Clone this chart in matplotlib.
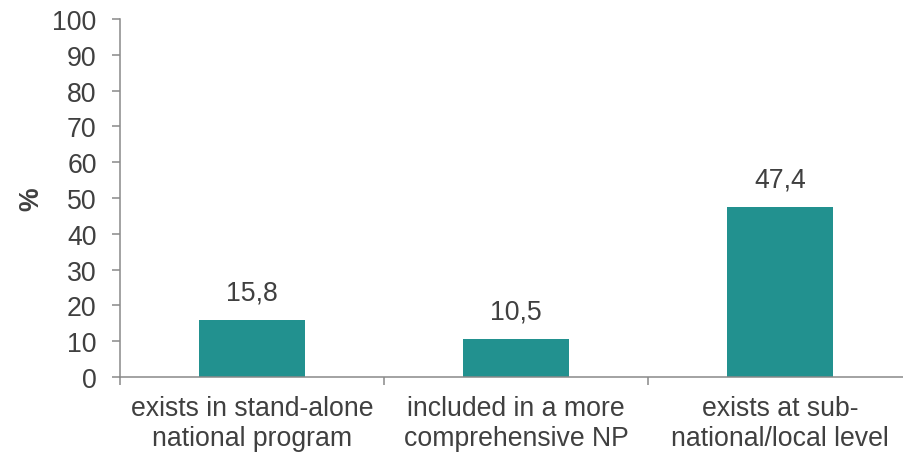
import matplotlib
matplotlib.use("Agg")
import matplotlib.pyplot as plt
import numpy as np

categories = ["exists in stand-alone\nnational program",
              "included in a more\ncomprehensive NP",
              "exists at sub-\nnational/local level"]
values = [15.8, 10.5, 47.4]
value_labels = ["15,8", "10,5", "47,4"]
yticks = [0, 10, 20, 30, 40, 50, 60, 70, 80, 90, 100]

plt.rcParams['font.family'] = ['Liberation Sans', 'DejaVu Sans']
text_color = "#404040"
spine_color = "#898989"
bar_color = "#22918F"
fs = 19.2

W, H = 904, 456
fig = plt.figure(figsize=(W / 100, H / 100), dpi=100)
ax = fig.add_axes([120 / W, (H - 378) / H, (912 - 120) / W, (378 - 20) / H])

x = np.arange(len(categories))
ax.bar(x, values, width=0.4, color=bar_color, zorder=2)
for xi, v, lab in zip(x, values, value_labels):
    ax.annotate(lab, (xi, v), xytext=(0, 11), textcoords="offset points",
                ha="center", va="bottom", fontsize=fs, color=text_color)

ax.set_xlim(-0.5, len(categories) - 0.5)
ax.set_ylim(0, 100)
ax.set_yticks(yticks)
ax.set_yticklabels([str(t) for t in yticks])

ax.set_xticks(np.arange(len(categories) + 1) - 0.5)
ax.set_xticklabels([])
ax.set_xticks(x, minor=True)
ax.set_xticklabels(categories, minor=True, fontsize=fs, color=text_color,
                   linespacing=1.2)
ax.tick_params(axis="x", which="minor", length=0, pad=13)
ax.tick_params(axis="x", which="major", length=5.5, width=1.1, color=spine_color, direction="out")
ax.tick_params(axis="y", length=5.8, width=1.1, color=spine_color, labelsize=fs,
               labelcolor=text_color, pad=11)

for s in ["top", "right"]:
    ax.spines[s].set_visible(False)
for s in ["left", "bottom"]:
    ax.spines[s].set_color(spine_color)
    ax.spines[s].set_linewidth(1.1)

ax.set_ylabel("%", fontsize=fs, fontweight="bold", color=text_color)
ax.yaxis.set_label_coords(-0.095, 0.5)

fig.savefig("out.png", dpi=100)
